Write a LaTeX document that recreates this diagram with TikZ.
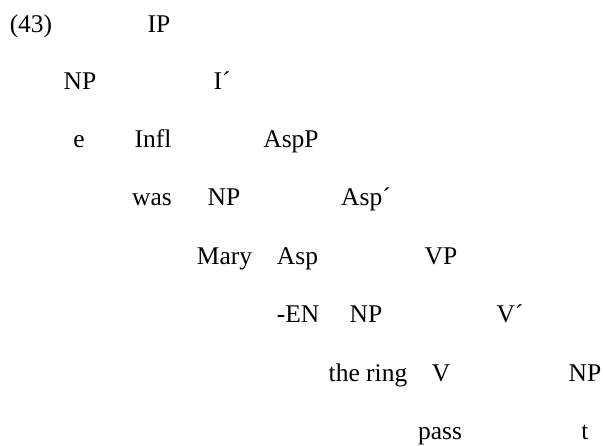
\documentclass[tikz,border=0pt]{standalone}
\usepackage{fontspec}
\setmainfont{Liberation Serif}
\begin{document}
\begin{tikzpicture}[x=1pt,y=-1pt,
  lbl/.style={anchor=base,inner sep=0pt,font=\fontsize{25.5}{30}\selectfont}]
\useasboundingbox (0,0) rectangle (603,445);
% example number
\node[lbl] (num) at (31,32) {(43)};
% row 1
\node[lbl] (ip) at (159,32) {IP};
% row 2
\node[lbl] (np1) at (80,89) {NP};
\node[lbl] (ibar) at (222,89) {I´};
% row 3
\node[lbl] (e) at (79,147) {e};
\node[lbl] (infl) at (153,147) {Infl};
\node[lbl] (aspp) at (291,147) {AspP};
% row 4
\node[lbl] (was) at (152,205) {was};
\node[lbl] (np2) at (224,205) {NP};
\node[lbl] (aspbar) at (366,205) {Asp´};
% row 5
\node[lbl] (mary) at (224.5,264) {Mary};
\node[lbl] (asp) at (297.5,264) {Asp};
\node[lbl] (vp) at (441,264) {VP};
% row 6
\node[lbl] (en) at (298,322) {-EN};
\node[lbl] (np3) at (366,322) {NP};
\node[lbl] (vbar) at (510,322) {V´};
% row 7
\node[lbl] (ring) at (368,381) {the ring};
\node[lbl] (v) at (441,381) {V};
\node[lbl] (np4) at (585,381) {NP};
% row 8
\node[lbl] (pass) at (440,439) {pass};
\node[lbl] (t) at (585,439) {t};
\end{tikzpicture}
\end{document}
